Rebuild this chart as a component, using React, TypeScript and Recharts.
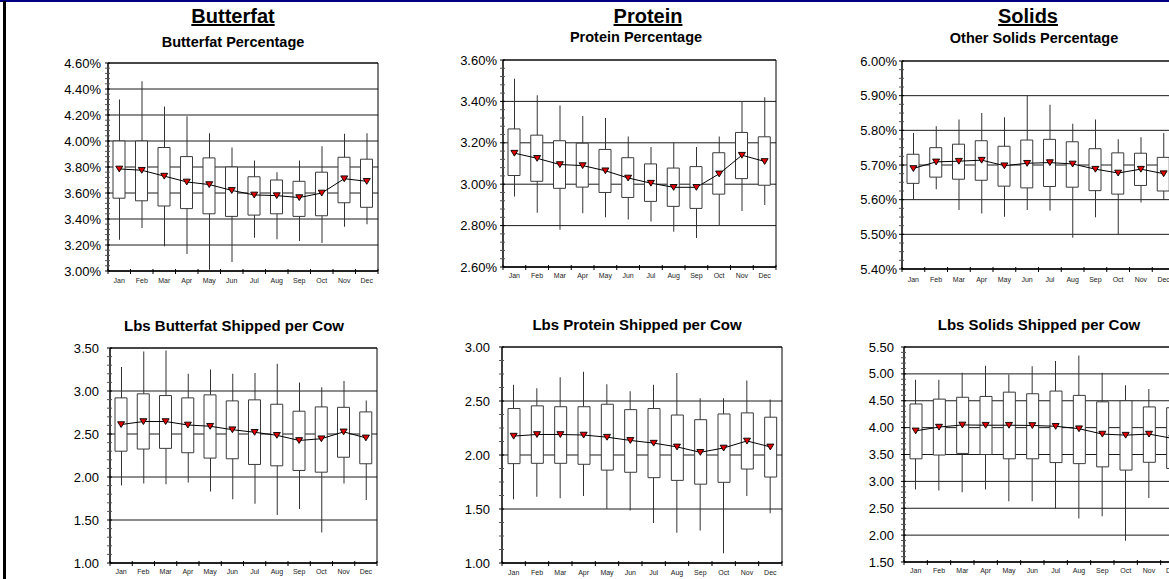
import React from 'react';
import { ComposedChart, Bar, Line, XAxis, YAxis, CartesianGrid, ReferenceArea } from 'recharts';

const months = ['Jan', 'Feb', 'Mar', 'Apr', 'May', 'Jun', 'Jul', 'Aug', 'Sep', 'Oct', 'Nov', 'Dec'];

// Butterfat Percentage
const bfPctHigh = [4.32, 4.46, 4.265, 4.19, 4.06, 3.95, 3.85, 3.76, 3.85, 3.96, 4.055, 4.06];
const bfPctQ3 = [4.0, 4.0, 3.95, 3.88, 3.87, 3.8, 3.725, 3.7, 3.69, 3.76, 3.875, 3.86];
const bfPctMean = [3.785, 3.775, 3.73, 3.685, 3.665, 3.62, 3.585, 3.58, 3.565, 3.6, 3.71, 3.69];
const bfPctQ1 = [3.56, 3.54, 3.5, 3.48, 3.44, 3.42, 3.43, 3.44, 3.42, 3.425, 3.525, 3.49];
const bfPctLow = [3.24, 3.33, 3.19, 3.13, 3.01, 3.07, 3.255, 3.245, 3.23, 3.215, 3.34, 3.36];
const bfPctTicks = [3.0, 3.2, 3.4, 3.6, 3.8, 4.0, 4.2, 4.4, 4.6];

// Protein Percentage
const prPctHigh = [3.51, 3.43, 3.38, 3.33, 3.32, 3.23, 3.18, 3.2, 3.18, 3.23, 3.4, 3.42];
const prPctQ3 = [3.267, 3.237, 3.21, 3.198, 3.168, 3.128, 3.098, 3.078, 3.085, 3.152, 3.25, 3.229];
const prPctMean = [3.15, 3.125, 3.095, 3.09, 3.065, 3.03, 3.005, 2.985, 2.985, 3.05, 3.14, 3.11];
const prPctQ1 = [3.042, 3.014, 2.98, 2.986, 2.96, 2.936, 2.917, 2.893, 2.883, 2.952, 3.027, 2.995];
const prPctLow = [2.94, 2.862, 2.78, 2.86, 2.84, 2.83, 2.82, 2.77, 2.74, 2.8, 2.87, 2.9];
const prPctTicks = [2.6, 2.8, 3.0, 3.2, 3.4, 3.6];

// Other Solids Percentage
const soPctHigh = [5.792, 5.812, 5.831, 5.85, 5.838, 5.9, 5.874, 5.819, 5.831, 5.774, 5.78, 5.792];
const soPctQ3 = [5.731, 5.75, 5.76, 5.77, 5.754, 5.772, 5.774, 5.767, 5.747, 5.735, 5.734, 5.722];
const soPctMean = [5.69, 5.709, 5.711, 5.714, 5.698, 5.705, 5.707, 5.703, 5.688, 5.677, 5.688, 5.675];
const soPctQ1 = [5.647, 5.665, 5.659, 5.656, 5.639, 5.634, 5.638, 5.636, 5.626, 5.616, 5.641, 5.625];
const soPctLow = [5.6, 5.63, 5.57, 5.56, 5.551, 5.57, 5.569, 5.49, 5.549, 5.5, 5.592, 5.6];
const soPctTicks = [5.4, 5.5, 5.6, 5.7, 5.8, 5.9, 6.0];

// Lbs Butterfat Shipped per Cow
const bfLbsHigh = [3.28, 3.46, 3.47, 3.2, 3.25, 3.2, 3.21, 3.317, 3.1, 3.045, 3.115, 2.89];
const bfLbsQ3 = [2.92, 2.967, 2.947, 2.92, 2.955, 2.885, 2.897, 2.846, 2.765, 2.815, 2.81, 2.757];
const bfLbsMean = [2.61, 2.645, 2.645, 2.605, 2.59, 2.55, 2.52, 2.485, 2.425, 2.445, 2.525, 2.455];
const bfLbsQ1 = [2.3, 2.325, 2.333, 2.282, 2.22, 2.212, 2.146, 2.13, 2.076, 2.056, 2.23, 2.154];
const bfLbsLow = [1.9, 1.924, 1.916, 1.936, 1.83, 1.74, 1.69, 1.558, 1.628, 1.356, 1.924, 1.733];
const bfLbsTicks = [1.0, 1.5, 2.0, 2.5, 3.0, 3.5];

// Lbs Protein Shipped per Cow
const prLbsHigh = [2.65, 2.617, 2.72, 2.77, 2.654, 2.59, 2.65, 2.76, 2.525, 2.525, 2.69, 2.515];
const prLbsQ3 = [2.43, 2.455, 2.447, 2.447, 2.47, 2.42, 2.43, 2.37, 2.327, 2.38, 2.39, 2.35];
const prLbsMean = [2.175, 2.19, 2.19, 2.185, 2.165, 2.135, 2.11, 2.075, 2.025, 2.065, 2.13, 2.075];
const prLbsQ1 = [1.92, 1.923, 1.923, 1.914, 1.86, 1.84, 1.79, 1.765, 1.73, 1.747, 1.87, 1.796];
const prLbsLow = [1.59, 1.614, 1.6, 1.62, 1.5, 1.485, 1.37, 1.28, 1.3, 1.09, 1.62, 1.46];
const prLbsTicks = [1.0, 1.5, 2.0, 2.5, 3.0];

// Lbs Solids Shipped per Cow
const soLbsHigh = [4.89, 4.89, 5.02, 5.15, 4.99, 5.14, 5.24, 5.34, 5.02, 4.79, 4.72, 4.8];
const soLbsQ3 = [4.44, 4.53, 4.565, 4.58, 4.66, 4.63, 4.68, 4.6, 4.48, 4.5, 4.385, 4.37];
const soLbsMean = [3.94, 4.01, 4.05, 4.045, 4.045, 4.04, 4.025, 3.98, 3.88, 3.86, 3.88, 3.8];
const soLbsQ1 = [3.42, 3.49, 3.52, 3.5, 3.42, 3.42, 3.35, 3.33, 3.27, 3.21, 3.355, 3.24];
const soLbsLow = [2.85, 2.83, 2.8, 2.85, 2.63, 2.63, 2.5, 2.31, 2.35, 1.895, 2.69, 2.75];
const soLbsTicks = [1.5, 2.0, 2.5, 3.0, 3.5, 4.0, 4.5, 5.0, 5.5];

const FONT = 'Arial, "Liberation Sans", Helvetica, sans-serif';
const YW = 60;
const XH = 18;
const MT = 10;
const MR = 5;

type Panel = {
  id: string;
  high: number[];
  q3: number[];
  mean: number[];
  q1: number[];
  low: number[];
  majors: number[];
  minorStep: number;
  pct: boolean;
  plotLeft: number;
  plotTop: number;
  plotW: number;
  plotH: number;
  labelGap: number;
  monthDy: number;
};

const panels: Panel[] = [
  { id: 'bfPct', high: bfPctHigh, q3: bfPctQ3, mean: bfPctMean, q1: bfPctQ1, low: bfPctLow, majors: bfPctTicks, minorStep: 0.04, pct: true, plotLeft: 108, plotTop: 63, plotW: 270, plotH: 208, labelGap: 7, monthDy: 12 },
  { id: 'prPct', high: prPctHigh, q3: prPctQ3, mean: prPctMean, q1: prPctQ1, low: prPctLow, majors: prPctTicks, minorStep: 0.04, pct: true, plotLeft: 503, plotTop: 60, plotW: 273, plotH: 207, labelGap: 6, monthDy: 11 },
  { id: 'soPct', high: soPctHigh, q3: soPctQ3, mean: soPctMean, q1: soPctQ1, low: soPctLow, majors: soPctTicks, minorStep: 0.025, pct: true, plotLeft: 902, plotTop: 61, plotW: 273, plotH: 208, labelGap: 5, monthDy: 13 },
  { id: 'bfLbs', high: bfLbsHigh, q3: bfLbsQ3, mean: bfLbsMean, q1: bfLbsQ1, low: bfLbsLow, majors: bfLbsTicks, minorStep: 0.1, pct: false, plotLeft: 110, plotTop: 348, plotW: 267, plotH: 215, labelGap: 11, monthDy: 10.5 },
  { id: 'prLbs', high: prLbsHigh, q3: prLbsQ3, mean: prLbsMean, q1: prLbsQ1, low: prLbsLow, majors: prLbsTicks, minorStep: 0.125, pct: false, plotLeft: 502, plotTop: 347, plotW: 280, plotH: 216, labelGap: 12, monthDy: 11.5 },
  { id: 'soLbs', high: soLbsHigh, q3: soLbsQ3, mean: soLbsMean, q1: soLbsQ1, low: soLbsLow, majors: soLbsTicks, minorStep: 0.1, pct: false, plotLeft: 904, plotTop: 347, plotW: 280, plotH: 215, labelGap: 10, monthDy: 11 },
];

const titles = [
  { text: 'Butterfat', x: 233, y: 23, size: 20, underline: true },
  { text: 'Protein', x: 648, y: 23, size: 20, underline: true },
  { text: 'Solids', x: 1028, y: 23, size: 20, underline: true },
  { text: 'Butterfat Percentage', x: 233, y: 47, size: 14.5, underline: false },
  { text: 'Protein Percentage', x: 636, y: 42, size: 14.5, underline: false },
  { text: 'Other Solids Percentage', x: 1034, y: 43, size: 14.5, underline: false },
  { text: 'Lbs Butterfat Shipped per Cow', x: 234, y: 331, size: 15, underline: false },
  { text: 'Lbs Protein Shipped per Cow', x: 637, y: 330, size: 15, underline: false },
  { text: 'Lbs Solids Shipped per Cow', x: 1039, y: 330, size: 15, underline: false },
];

function allTicks(majors: number[], step: number): number[] {
  const lo = majors[0];
  const hi = majors[majors.length - 1];
  const n = Math.round((hi - lo) / step);
  const out: number[] = [];
  for (let i = 0; i <= n; i++) out.push(+(lo + i * step).toFixed(4));
  return out;
}

function renderYTick(props: any, p: Panel) {
  const { x, y, payload } = props;
  const v = Number(payload.value);
  const major = p.majors.some((m) => Math.abs(m - v) < 1e-6);
  return (
    <g>
      <line x1={x - 3} x2={x + 2} y1={y} y2={y} stroke={major ? '#000' : '#555'} strokeWidth={1} />
      {major && (
        <text x={x - p.labelGap} y={y} dy={4.6} textAnchor="end" fontSize={13} fontFamily={FONT} fill="#000">
          {p.pct ? v.toFixed(2) + '%' : v.toFixed(2)}
        </text>
      )}
    </g>
  );
}

function renderXTick(props: any, p: Panel) {
  const { x, y, payload, index } = props;
  const band = p.plotW / months.length;
  const bx = x - band / 2;
  return (
    <g>
      <line x1={bx} x2={bx} y1={y - 2} y2={y + 3} stroke="#000" strokeWidth={1} />
      {index === months.length - 1 && (
        <line x1={x + band / 2} x2={x + band / 2} y1={y - 2} y2={y + 3} stroke="#000" strokeWidth={1} />
      )}
      <text x={x} y={y + p.monthDy} textAnchor="middle" fontSize={7} fontFamily={FONT} fill="#222">
        {payload.value}
      </text>
    </g>
  );
}

function renderTri(props: any) {
  const { cx, cy, index } = props;
  if (cx == null || cy == null) return <g key={`t${index}`} />;
  return (
    <path
      key={`t${index}`}
      d={`M${cx - 3.5},${cy - 2.8} L${cx + 3.5},${cy - 2.8} L${cx},${cy + 3} Z`}
      fill="#e00000"
      stroke="#000"
      strokeWidth={0.9}
    />
  );
}

function BoxPanel({ p }: { p: Panel }) {
  const rows = months.map((m, i) => ({
    m,
    wh: [p.low[i], p.high[i]],
    box: [p.q1[i], p.q3[i]],
    mean: p.mean[i],
  }));
  const lo = p.majors[0];
  const hi = p.majors[p.majors.length - 1];
  const ticks = allTicks(p.majors, p.minorStep);
  const width = YW + p.plotW + MR;
  const height = MT + p.plotH + XH;
  return (
    <div style={{ position: 'absolute', left: p.plotLeft - YW, top: p.plotTop - MT, width, height }}>
      <ComposedChart width={width} height={height} data={rows} margin={{ top: MT, right: MR, left: 0, bottom: 0 }}>
        <CartesianGrid vertical={false} horizontalValues={p.majors} stroke="#1a1a1a" strokeWidth={1} />
        <XAxis
          xAxisId="main"
          dataKey="m"
          interval={0}
          tickSize={0}
          tickMargin={0}
          tickLine={false}
          height={XH}
          axisLine={{ stroke: '#000' }}
          tick={(props: any) => renderXTick(props, p)}
        />
        <XAxis xAxisId="w" dataKey="m" hide />
        <YAxis
          type="number"
          domain={[lo, hi]}
          allowDataOverflow
          ticks={ticks}
          interval={0}
          tickSize={0}
          tickMargin={0}
          tickLine={false}
          width={YW}
          axisLine={{ stroke: '#000' }}
          tick={(props: any) => renderYTick(props, p)}
        />
        <Bar xAxisId="w" dataKey="wh" barSize={1} fill="#333" isAnimationActive={false} />
        <Bar xAxisId="main" dataKey="box" barSize={12} fill="#fff" stroke="#3a3a3a" strokeWidth={1} isAnimationActive={false} />
        <Line
          xAxisId="main"
          type="linear"
          dataKey="mean"
          stroke="#000"
          strokeWidth={1}
          dot={renderTri}
          activeDot={false}
          isAnimationActive={false}
        />
        <ReferenceArea xAxisId="main" y1={lo} y2={hi} fill="none" fillOpacity={0} stroke="#000" strokeWidth={1} />
      </ComposedChart>
    </div>
  );
}

export default function App() {
  return (
    <div
      style={{
        position: 'absolute',
        left: 0,
        top: 0,
        width: 1169,
        height: 579,
        overflow: 'hidden',
        background: '#fff',
      }}
    >
      <svg width={1169} height={579} style={{ position: 'absolute', left: 0, top: 0 }}>
        <rect x={0} y={0} width={1169} height={2} fill="#000080" />
        <rect x={3} y={1} width={3} height={578} fill="#000" />
        {titles.map((t) => (
          <text
            key={t.text}
            x={t.x}
            y={t.y}
            textAnchor="middle"
            fontSize={t.size}
            fontWeight="bold"
            fontFamily={FONT}
            fill="#000"
            style={t.underline ? { textDecoration: 'underline' } : undefined}
          >
            {t.text}
          </text>
        ))}
      </svg>
      {panels.map((p) => (
        <BoxPanel key={p.id} p={p} />
      ))}
    </div>
  );
}
